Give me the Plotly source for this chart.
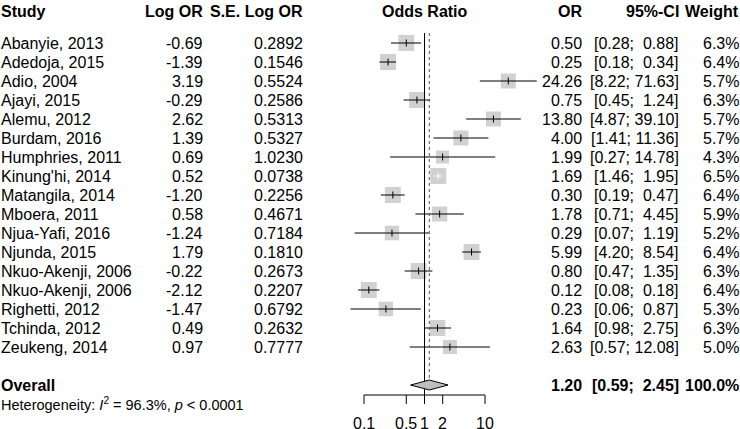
import math
import plotly.graph_objects as go

# ---------------- data ----------------
studies = ["Abanyie, 2013", "Adedoja, 2015", "Adio, 2004", "Ajayi, 2015", "Alemu, 2012",
           "Burdam, 2016", "Humphries, 2011", "Kinung'hi, 2014", "Matangila, 2014",
           "Mboera, 2011", "Njua-Yafi, 2016", "Njunda, 2015", "Nkuo-Akenji, 2006",
           "Nkuo-Akenji, 2006", "Righetti, 2012", "Tchinda, 2012", "Zeukeng, 2014"]
log_or = [-0.69, -1.39, 3.19, -0.29, 2.62, 1.39, 0.69, 0.52, -1.20, 0.58, -1.24, 1.79,
          -0.22, -2.12, -1.47, 0.49, 0.97]
se_log_or = [0.2892, 0.1546, 0.5524, 0.2586, 0.5313, 0.5327, 1.0230, 0.0738, 0.2256,
             0.4671, 0.7184, 0.1810, 0.2673, 0.2207, 0.6792, 0.2632, 0.7777]
odds_ratio = [0.50, 0.25, 24.26, 0.75, 13.80, 4.00, 1.99, 1.69, 0.30, 1.78, 0.29, 5.99,
              0.80, 0.12, 0.23, 1.64, 2.63]
ci_lower = [0.28, 0.18, 8.22, 0.45, 4.87, 1.41, 0.27, 1.46, 0.19, 0.71, 0.07, 4.20,
            0.47, 0.08, 0.06, 0.98, 0.57]
ci_upper = [0.88, 0.34, 71.63, 1.24, 39.10, 11.36, 14.78, 1.95, 0.47, 4.45, 1.19, 8.54,
            1.35, 0.18, 0.87, 2.75, 12.08]
weights = [6.3, 6.4, 5.7, 6.3, 5.7, 5.7, 4.3, 6.5, 6.4, 5.9, 5.2, 6.4, 6.3, 6.4, 5.3, 6.3, 5.0]

overall_or = 1.20
overall_lower = 0.59
overall_upper = 2.45
overall_weight = 100.0
heterogeneity_i2 = 96.3
heterogeneity_p = "< 0.0001"

x_ticks = [0.1, 0.5, 1, 2, 10]
x_tick_labels = ["0.1", "0.5", "1", "2", "10"]

headers = ["Study", "Log OR", "S.E. Log OR", "Odds Ratio", "OR", "95%-CI", "Weight"]

# ---------------- layout constants ----------------
W, H = 740, 429
FONT = "Liberation Sans, Arial, sans-serif"
FS = 16
LOGR = (-1.3, 1.9)
PX0, PX1 = 345.85, 539.45
px_per_decade = (PX1 - PX0) / (LOGR[1] - LOGR[0])
ROW_PX = 19.0
ROW0_PX = 43.0
def row_of(px):
    return (px - ROW0_PX) / ROW_PX
y_top = row_of(0)
y_bot = row_of(H)

GRAY = "#BEBEBE"
BLACK = "#000000"
NB = "\u00a0"

n = len(studies)
rows = list(range(n))
overall_row = n + 1
het_row = n + 2
axis_row = row_of(395)
tick_end_row = row_of(404)
ticklab_row = row_of(423)
header_row = row_of(11)

sq_size = [16.0 * math.sqrt(w / max(weights)) for w in weights]

fig = go.Figure()

# squares
fig.add_trace(go.Scatter(
    x=odds_ratio, y=rows, mode="markers",
    marker=dict(symbol="square", size=sq_size, color=GRAY, line=dict(width=0)),
    hoverinfo="skip", showlegend=False))

# CI lines
for i in range(n):
    ci_px = (math.log10(ci_upper[i]) - math.log10(ci_lower[i])) * px_per_decade
    col = "#FFFFFF" if ci_px < sq_size[i] else BLACK
    fig.add_trace(go.Scatter(
        x=[ci_lower[i], ci_upper[i]], y=[rows[i], rows[i]], mode="lines",
        line=dict(color=col, width=1), hoverinfo="skip", showlegend=False))
    fig.add_trace(go.Scatter(
        x=[odds_ratio[i]], y=[rows[i]], mode="markers",
        marker=dict(symbol="line-ns", size=5, line=dict(color=col, width=1)),
        hoverinfo="skip", showlegend=False))

# reference lines
fig.add_trace(go.Scatter(x=[1, 1], y=[row_of(33), axis_row], mode="lines",
                         line=dict(color=BLACK, width=1), hoverinfo="skip", showlegend=False))
fig.add_trace(go.Scatter(x=[overall_or, overall_or], y=[row_of(33), row_of(380)], mode="lines",
                         line=dict(color="#555555", width=1, dash="dot"),
                         hoverinfo="skip", showlegend=False))

# diamond
dh = 5.0 / ROW_PX
fig.add_trace(go.Scatter(
    x=[overall_lower, overall_or, overall_upper, overall_or, overall_lower],
    y=[overall_row, overall_row - dh, overall_row, overall_row + dh, overall_row],
    mode="lines", fill="toself", fillcolor=GRAY, line=dict(color=BLACK, width=1),
    hoverinfo="skip", showlegend=False))

# axis line & ticks
fig.add_trace(go.Scatter(x=[x_ticks[0], x_ticks[-1]], y=[axis_row, axis_row], mode="lines",
                         line=dict(color=BLACK, width=1), hoverinfo="skip", showlegend=False))
for t in x_ticks:
    fig.add_trace(go.Scatter(x=[t, t], y=[axis_row, tick_end_row], mode="lines",
                             line=dict(color=BLACK, width=1), hoverinfo="skip", showlegend=False))

ann = []
def add_text(text, xpx, yrow, anchor, size=FS, xdata=None):
    d = dict(text=text, y=yrow, yref="y", xanchor=anchor, yanchor="middle",
             showarrow=False, font=dict(family=FONT, size=size, color=BLACK),
             borderpad=0)
    if xdata is None:
        d.update(x=xpx / W, xref="paper")
    else:
        d.update(x=xdata, xref="x")
    ann.append(d)

for t, lab in zip(x_ticks, x_tick_labels):
    add_text(lab, None, ticklab_row, "center", xdata=math.log10(t))

# column positions (right edges in px)
COL_STUDY = 0
COL_LOGOR = 204
COL_SE = 304
COL_OR = 583
COL_CI = 680
COL_W = 740

# headers
add_text("<b>" + headers[0] + "</b>", COL_STUDY, header_row, "left")
add_text("<b>" + headers[1] + "</b>", COL_LOGOR, header_row, "right")
add_text("<b>" + headers[2] + "</b>", COL_SE, header_row, "right")
add_text("<b>" + headers[3] + "</b>", None, header_row, "center", xdata=0.0)
add_text("<b>" + headers[4] + "</b>", COL_OR, header_row, "right")
add_text("<b>" + headers[5] + "</b>", COL_CI, header_row, "right")
add_text("<b>" + headers[6] + "</b>", COL_W, header_row, "right")

def fmt_ci(lo, hi):
    return ("[" + f"{lo:.2f}; {hi:5.2f}" + "]").replace(" ", NB)

for i in range(n):
    add_text(studies[i], COL_STUDY, rows[i], "left")
    add_text(f"{log_or[i]:.2f}", COL_LOGOR, rows[i], "right")
    add_text(f"{se_log_or[i]:.4f}", COL_SE, rows[i], "right")
    add_text(f"{odds_ratio[i]:.2f}", COL_OR, rows[i], "right")
    add_text(fmt_ci(ci_lower[i], ci_upper[i]), COL_CI, rows[i], "right")
    add_text(f"{weights[i]:.1f}%", COL_W, rows[i], "right")

add_text("<b>Overall</b>", COL_STUDY, overall_row, "left")
add_text(f"<b>{overall_or:.2f}</b>", COL_OR, overall_row, "right")
add_text("<b>" + fmt_ci(overall_lower, overall_upper) + "</b>", COL_CI, overall_row, "right")
add_text(f"<b>{overall_weight:.1f}%</b>", COL_W, overall_row, "right")
add_text(f"Heterogeneity: <i>I</i><sup>2</sup> = {heterogeneity_i2:.1f}%, <i>p</i> {heterogeneity_p}",
         COL_STUDY, het_row, "left", size=14.5)

fig.update_layout(
    width=W, height=H, margin=dict(l=0, r=0, t=0, b=0),
    paper_bgcolor="white", plot_bgcolor="white",
    xaxis=dict(type="log", range=list(LOGR), domain=[PX0 / W, PX1 / W], visible=False),
    yaxis=dict(range=[y_bot, y_top], domain=[0, 1], visible=False),
    annotations=ann, showlegend=False,
)

fig.write_html("out.html", config={"displayModeBar": False},
               post_script="document.body.style.margin='0';document.body.style.overflow='hidden';")
